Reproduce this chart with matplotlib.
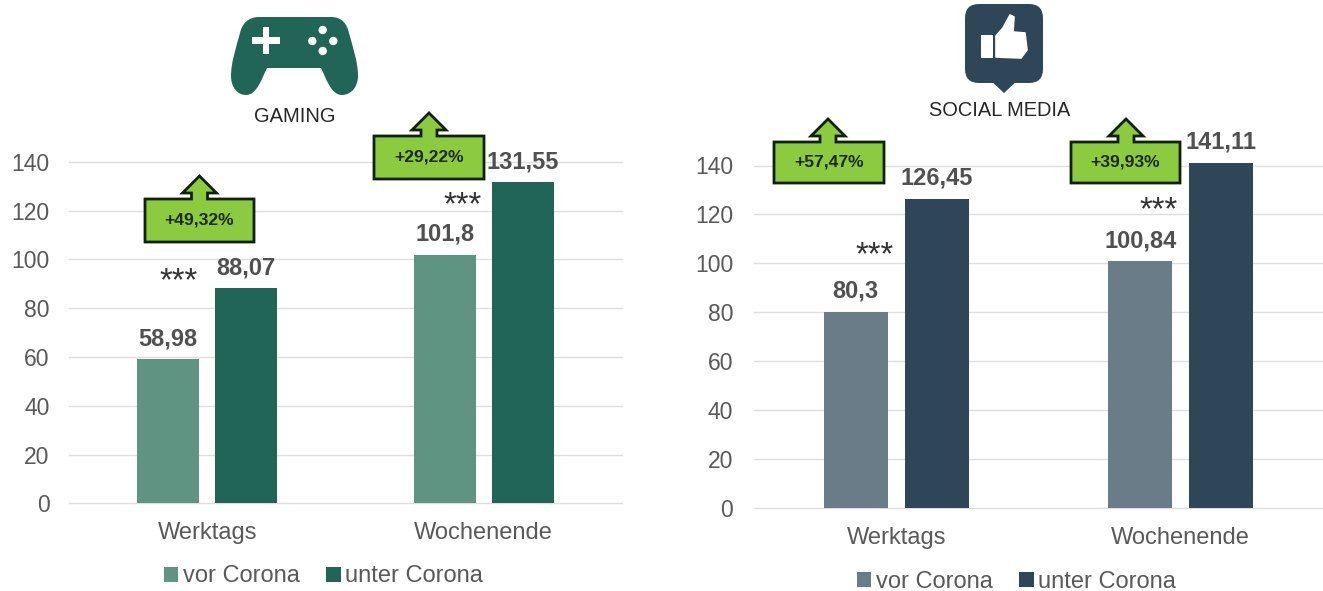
import matplotlib
matplotlib.use("Agg")
import matplotlib.pyplot as plt
from matplotlib.path import Path
from matplotlib.patches import PathPatch, Polygon, Circle, Rectangle, FancyBboxPatch

plt.rcParams['font.family'] = ['Liberation Sans', 'DejaVu Sans']

categories = ["Werktags", "Wochenende"]
series_names = ["vor Corona", "unter Corona"]
gaming_before = [58.98, 101.8]
gaming_during = [88.07, 131.55]
social_before = [80.3, 100.84]
social_during = [126.45, 141.11]
gaming_labels = [["58,98", "101,8"], ["88,07", "131,55"]]
social_labels = [["80,3", "100,84"], ["126,45", "141,11"]]
yticks = [0, 20, 40, 60, 80, 100, 120, 140]
gaming_pct = ["+49,32%", "+29,22%"]
social_pct = ["+57,47%", "+39,93%"]

W, H = 1323, 591
GREY = "#595959"
GRID = "#dedede"
fig = plt.figure(figsize=(W / 100, H / 100), dpi=100)


def make_axes(x0, x1, y0, y140, before, during, labels, colors, pad, leg_xy, bar_px, off_px, xpad):
    top_val = 150
    ppu = (y0 - y140) / 140
    ytop = y0 - top_val * ppu
    ax = fig.add_axes([x0 / W, 1 - y0 / H, (x1 - x0) / W, (y0 - ytop) / H])
    ax.set_xlim(-0.5, 1.5)
    ax.set_ylim(0, top_val)
    ax.patch.set_alpha(0)
    width = bar_px / ((x1 - x0) / 2)
    off = off_px / ((x1 - x0) / 2)
    for i, (vals, lab, col) in enumerate(zip((before, during), labels, colors)):
        xs = [c + (2 * i - 1) * off for c in range(len(categories))]
        bars = ax.bar(xs, vals, width=width, color=col, zorder=3, label=series_names[i])
        for b, t in zip(bars, lab):
            ax.annotate(t, (b.get_x() + b.get_width() / 2, b.get_height()),
                        xytext=(0, 6.5), textcoords="offset points", ha="center", va="bottom",
                        fontsize=17, fontweight="bold", color="#505050", zorder=5)
    for sp in ax.spines.values():
        sp.set_visible(False)
    ax.set_yticks(yticks)
    ax.set_xticks(range(len(categories)), categories)
    ax.yaxis.grid(True, color=GRID, lw=1.0, zorder=0)
    for gl in ax.yaxis.get_gridlines():
        gl.set_clip_on(False)
    ax.set_axisbelow(True)
    ax.tick_params(axis="y", length=0, pad=pad, labelsize=16.5, labelcolor=GREY)
    ax.tick_params(axis="x", length=0, pad=xpad, labelsize=17, labelcolor=GREY)
    ax.legend(loc="center", bbox_to_anchor=(leg_xy[0] / W, 1 - leg_xy[1] / H),
              bbox_transform=fig.transFigure, ncols=2, frameon=False, fontsize=17,
              labelcolor=GREY, handlelength=0.62, handleheight=0.62, handletextpad=0.2,
              columnspacing=1.1, borderpad=0, borderaxespad=0)
    return ax


make_axes(69, 622, 503.3, 161.7, gaming_before, gaming_during, gaming_labels,
          ("#5f9482", "#206555"), 14, (323.5, 576.5), 62, 39, 13.5)
make_axes(754, 1323, 508, 165.5, social_before, social_during, social_labels,
          ("#6a7c88", "#2e4658"), 15, (1016.5, 581.5), 64, 40.5, 14)

# overlay in pixel space for icons, callouts and annotations
ov = fig.add_axes([0, 0, 1, 1], zorder=10)
ov.set_xlim(0, W)
ov.set_ylim(H, 0)
ov.axis("off")
ov.patch.set_alpha(0)


def callout(x0, x1, y0, y1, tipx, tipy, basey, text):
    pts = [(x0, y0), (tipx - 8, y0), (tipx - 8, basey), (tipx - 17, basey), (tipx, tipy),
           (tipx + 17, basey), (tipx + 8, basey), (tipx + 8, y0), (x1, y0), (x1, y1), (x0, y1)]
    ov.add_patch(Polygon(pts, closed=True, fc="#8ccb3f", ec="#10200c", lw=2.0, joinstyle="miter"))
    ov.text((x0 + x1) / 2, (y0 + y1) / 2 - 0.5, text, ha="center", va="center",
            fontsize=12.6, fontweight="bold", color="#1c2b14")


callout(145, 254, 199, 242, 199.5, 176, 193, gaming_pct[0])
callout(374, 484, 136, 179, 429, 113, 130, gaming_pct[1])
callout(774, 884, 142, 183, 828, 119, 136, social_pct[0])
callout(1071, 1180, 142, 183, 1126, 119, 136, social_pct[1])

for sx, sy in [(179, 282), (463, 206), (875, 256), (1159, 211)]:
    ov.text(sx, sy, "***", ha="center", va="center", fontsize=23.5, color="#333333")

ov.text(295, 116, "GAMING", ha="center", va="center", fontsize=14.5, color="#262626")
ov.text(999.5, 111, "SOCIAL MEDIA", ha="center", va="center", fontsize=14.4, color="#262626")

# gamepad icon
G = "#206555"
M, C, Z, L = Path.MOVETO, Path.CURVE4, Path.CLOSEPOLY, Path.LINETO
pad_pts = [
    (M, (259, 17)), (L, (331, 17)),
    (C, (342, 17)), (C, (347, 24)), (C, (349, 33)),
    (C, (353, 48)), (C, (358, 62)), (C, (358, 76)),
    (C, (358, 88)), (C, (350, 95)), (C, (342, 95)),
    (C, (331, 95)), (C, (326, 78)), (C, (321, 68)),
    (L, (267, 68)),
    (C, (262, 78)), (C, (257, 95)), (C, (246, 95)),
    (C, (238, 95)), (C, (231, 88)), (C, (231, 76)),
    (C, (231, 62)), (C, (236, 48)), (C, (240, 33)),
    (C, (242, 24)), (C, (248, 17)), (C, (259, 17)),
    (Z, (259, 17)),
]
ov.add_patch(PathPatch(Path([p for _, p in pad_pts], [c for c, _ in pad_pts]), fc=G, ec="none"))
ov.add_patch(Rectangle((252, 37), 28, 6.5, fc="white", ec="none"))
ov.add_patch(Rectangle((262.5, 27), 6.5, 27, fc="white", ec="none"))
for cx, cy in [(322.7, 30), (312.3, 41), (333.3, 41), (322.7, 51)]:
    ov.add_patch(Circle((cx, cy), 4.2, fc="white", ec="none"))

# thumbs-up icon
T = "#2e4658"
ov.add_patch(FancyBboxPatch((973, 12), 62, 63, boxstyle="round,pad=8,rounding_size=14", fc=T, ec="none"))
ov.add_patch(Polygon([(990, 80), (1018, 80), (1004, 93)], closed=True, fc=T, ec="none"))
ov.add_patch(Rectangle((981, 35), 12, 23, fc="white", ec="none"))
hand = [(996, 36), (1003, 28), (1010, 15), (1014, 17), (1013, 32), (1025, 33), (1027, 50),
        (1021, 58), (996, 57)]
ov.add_patch(Polygon(hand, closed=True, fc="white", ec="white", lw=1.2, joinstyle="round"))

fig.savefig("out.png", dpi=100, facecolor="white")
